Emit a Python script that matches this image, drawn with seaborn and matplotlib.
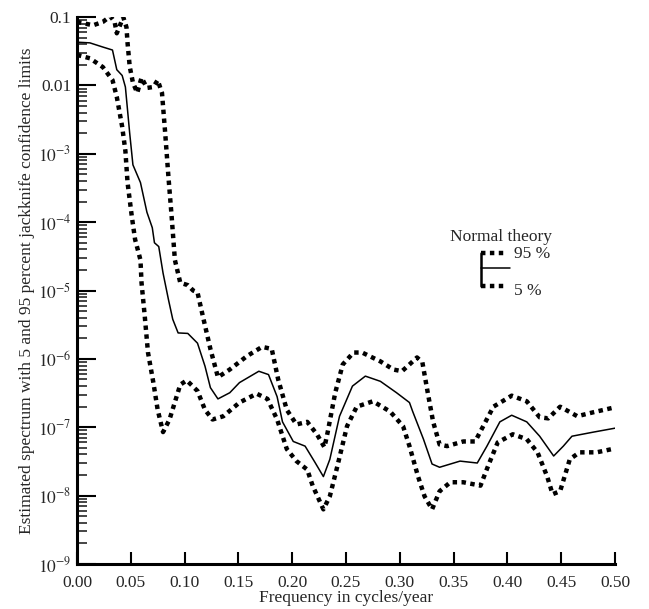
import numpy as np
import pandas as pd
import seaborn as sns
import matplotlib
matplotlib.use("Agg")
import matplotlib.pyplot as plt
from matplotlib.ticker import LogLocator, FixedLocator, NullFormatter

# 95 percent jackknife limit
freq_hi = [0.000, 0.015, 0.024, 0.031, 0.035, 0.037, 0.040, 0.043, 0.046, 0.047,
           0.049, 0.052, 0.056, 0.060, 0.065, 0.071, 0.075, 0.079, 0.082, 0.085,
           0.088, 0.091, 0.096, 0.103, 0.108, 0.112, 0.117, 0.124, 0.131, 0.142,
           0.158, 0.172, 0.181, 0.187, 0.195, 0.204, 0.214, 0.223, 0.230, 0.233,
           0.240, 0.247, 0.257, 0.265, 0.282, 0.294, 0.302, 0.309, 0.316, 0.321,
           0.326, 0.331, 0.337, 0.344, 0.359, 0.370, 0.377, 0.387, 0.404, 0.418,
           0.430, 0.438, 0.449, 0.465, 0.480, 0.500]
spec_hi = [8.5e-2, 7.6e-2, 8.5e-2, 1.03e-1, 8.5e-2, 5.8e-2, 7.6e-2, 1.0e-1, 7.1e-2, 4.2e-2,
           1.9e-2, 1.1e-2, 7.8e-3, 1.3e-2, 9.2e-3, 9.5e-3, 1.2e-2, 7.8e-3, 2.0e-3, 4.6e-4,
           1.2e-4, 2.8e-5, 1.3e-5, 1.2e-5, 1.0e-5, 9.4e-6, 4.2e-6, 1.4e-6, 5.4e-7, 7.0e-7,
           1.1e-6, 1.5e-6, 1.4e-6, 5.0e-7, 1.8e-7, 1.1e-7, 1.2e-7, 7.9e-8, 5.1e-8, 8.5e-8,
           3.2e-7, 8.3e-7, 1.24e-6, 1.24e-6, 9.2e-7, 7.0e-7, 6.6e-7, 8.3e-7, 1.05e-6, 8.9e-7,
           3.2e-7, 1.2e-7, 5.6e-8, 5.3e-8, 6.2e-8, 6.2e-8, 1.0e-7, 2.0e-7, 2.9e-7, 2.4e-7,
           1.4e-7, 1.35e-7, 2.0e-7, 1.45e-7, 1.66e-7, 1.96e-7]

# estimated spectrum
freq_mid = [0.000, 0.012, 0.024, 0.033, 0.037, 0.042, 0.045, 0.049, 0.052, 0.059,
            0.065, 0.070, 0.072, 0.076, 0.080, 0.085, 0.089, 0.094, 0.103, 0.112,
            0.119, 0.124, 0.131, 0.142, 0.151, 0.169, 0.178, 0.186, 0.191, 0.201,
            0.212, 0.221, 0.229, 0.235, 0.244, 0.256, 0.268, 0.282, 0.297, 0.309,
            0.312, 0.322, 0.330, 0.337, 0.356, 0.372, 0.381, 0.393, 0.404, 0.418,
            0.430, 0.443, 0.452, 0.460, 0.480, 0.500]
spec_mid = [4.3e-2, 4.2e-2, 3.65e-2, 3.3e-2, 1.7e-2, 1.4e-2, 9.5e-3, 2.0e-3, 6.9e-4, 3.8e-4,
            1.4e-4, 8.3e-5, 5.0e-5, 4.4e-5, 1.8e-5, 7.4e-6, 3.8e-6, 2.4e-6, 2.36e-6, 1.7e-6,
            7.8e-7, 3.8e-7, 2.6e-7, 3.2e-7, 4.5e-7, 6.6e-7, 5.9e-7, 2.8e-7, 1.2e-7, 6.2e-8,
            5.3e-8, 3.1e-8, 1.9e-8, 3.4e-8, 1.45e-7, 4.0e-7, 5.6e-7, 4.7e-7, 3.2e-7, 2.3e-7,
            1.7e-7, 6.7e-8, 2.9e-8, 2.6e-8, 3.2e-8, 3.0e-8, 5.3e-8, 1.2e-7, 1.5e-7, 1.2e-7,
            7.4e-8, 3.8e-8, 5.3e-8, 7.4e-8, 8.5e-8, 9.7e-8]

# 5 percent jackknife limit
freq_lo = [0.000, 0.012, 0.024, 0.033, 0.037, 0.042, 0.045, 0.047, 0.051, 0.054,
           0.059, 0.060, 0.063, 0.066, 0.071, 0.075, 0.080, 0.086, 0.096, 0.102,
           0.112, 0.119, 0.126, 0.136, 0.151, 0.167, 0.177, 0.186, 0.195, 0.204,
           0.214, 0.219, 0.229, 0.235, 0.242, 0.251, 0.260, 0.275, 0.291, 0.303,
           0.309, 0.317, 0.323, 0.330, 0.337, 0.347, 0.359, 0.375, 0.382, 0.391,
           0.405, 0.418, 0.428, 0.437, 0.442, 0.449, 0.458, 0.467, 0.483, 0.500]
spec_lo = [2.8e-2, 2.5e-2, 1.86e-2, 1.2e-2, 6.8e-3, 2.5e-3, 1.1e-3, 3.8e-4, 1.2e-4, 5.6e-5,
           2.8e-5, 1.3e-5, 4.2e-6, 1.24e-6, 4.5e-7, 1.8e-7, 8.5e-8, 1.3e-7, 4.2e-7, 4.85e-7,
           3.4e-7, 1.8e-7, 1.3e-7, 1.45e-7, 2.3e-7, 3.1e-7, 2.6e-7, 1.3e-7, 4.8e-8, 3.2e-8,
           2.4e-8, 1.4e-8, 6.3e-9, 9.8e-9, 2.7e-8, 1.04e-7, 2.0e-7, 2.4e-7, 1.7e-7, 1.04e-7,
           5.3e-8, 1.9e-8, 9.8e-9, 6.3e-9, 1.16e-8, 1.57e-8, 1.57e-8, 1.4e-8, 2.7e-8, 6.0e-8,
           7.9e-8, 6.7e-8, 4.3e-8, 1.9e-8, 1.05e-8, 1.16e-8, 3.4e-8, 4.3e-8, 4.3e-8, 4.9e-8]

x_ticks = [0.00, 0.05, 0.10, 0.15, 0.20, 0.25, 0.30, 0.35, 0.40, 0.45, 0.50]
y_ticks = [1e-9, 1e-8, 1e-7, 1e-6, 1e-5, 1e-4, 1e-3, 1e-2, 1e-1]
y_tick_labels = [r"$10^{-9}$", r"$10^{-8}$", r"$10^{-7}$", r"$10^{-6}$", r"$10^{-5}$",
                 r"$10^{-4}$", r"$10^{-3}$", "0.01", "0.1"]

DOT = (0, (1, 1))


def setup_style():
    sns.set_style("ticks")
    plt.rcParams["font.family"] = ["Liberation Serif", "DejaVu Serif"]
    plt.rcParams["mathtext.fontset"] = "stix"
    plt.rcParams["lines.dash_capstyle"] = "butt"


def draw_curves(ax):
    sns.lineplot(x=freq_hi, y=spec_hi, ax=ax, color="black", lw=3.2,
                 linestyle=DOT, sort=False, estimator=None)
    sns.lineplot(x=freq_mid, y=spec_mid, ax=ax, color="black", lw=1.1,
                 sort=False, estimator=None)
    sns.lineplot(x=freq_lo, y=spec_lo, ax=ax, color="black", lw=3.2,
                 linestyle=DOT, sort=False, estimator=None)


def draw_legend(ax):
    tr = ax.transAxes
    ax.text(0.694, 0.598, "Normal theory", transform=tr, fontsize=12.5, va="center")
    ax.plot([0.751, 0.751], [0.508, 0.569], color="black", lw=1.8, transform=tr)
    ax.plot([0.751, 0.797], [0.569, 0.569], color="black", lw=3.2, linestyle=DOT, transform=tr)
    ax.plot([0.751, 0.805], [0.541, 0.541], color="black", lw=1.1, transform=tr)
    ax.plot([0.751, 0.797], [0.508, 0.508], color="black", lw=3.2, linestyle=DOT, transform=tr)
    ax.text(0.812, 0.566, "95 %", transform=tr, fontsize=12.5, va="center")
    ax.text(0.812, 0.500, "5 %", transform=tr, fontsize=12.5, va="center")


def format_axes(ax):
    ax.set_yscale("log")
    ax.set_xlim(0, 0.5)
    ax.set_ylim(1e-9, 1e-1)
    ax.xaxis.set_major_locator(FixedLocator(x_ticks))
    ax.set_xticklabels(["%.2f" % t for t in x_ticks])
    ax.yaxis.set_major_locator(FixedLocator(y_ticks))
    ax.set_yticklabels(y_tick_labels)
    ax.yaxis.set_minor_locator(LogLocator(base=10, subs=np.arange(2, 10), numticks=20))
    ax.yaxis.set_minor_formatter(NullFormatter())
    ax.tick_params(axis="both", which="major", direction="in", labelsize=12.5,
                   width=1.5, color="black")
    ax.tick_params(axis="y", which="major", length=14, pad=4)
    ax.tick_params(axis="x", which="major", length=9, pad=8)
    ax.tick_params(axis="y", which="minor", direction="in", length=7, width=1.2)
    for s in ["top", "right"]:
        ax.spines[s].set_visible(False)
    for s in ["left", "bottom"]:
        ax.spines[s].set_linewidth(2.2)
        ax.spines[s].set_color("black")
    ax.set_xlabel("Frequency in cycles/year", fontsize=12.5, labelpad=-1)
    ax.set_ylabel("Estimated spectrum with 5 and 95 percent jackknife confidence limits",
                  fontsize=12.5, labelpad=2)


def run():
    setup_style()
    fig = plt.figure(figsize=(6.49, 6.09), dpi=100)
    ax = fig.add_axes([0.1186, 0.0739, 0.829, 0.898])
    draw_curves(ax)
    format_axes(ax)
    draw_legend(ax)
    fig.savefig("out.png", dpi=100)


if __name__ == '__main__':
    run()
